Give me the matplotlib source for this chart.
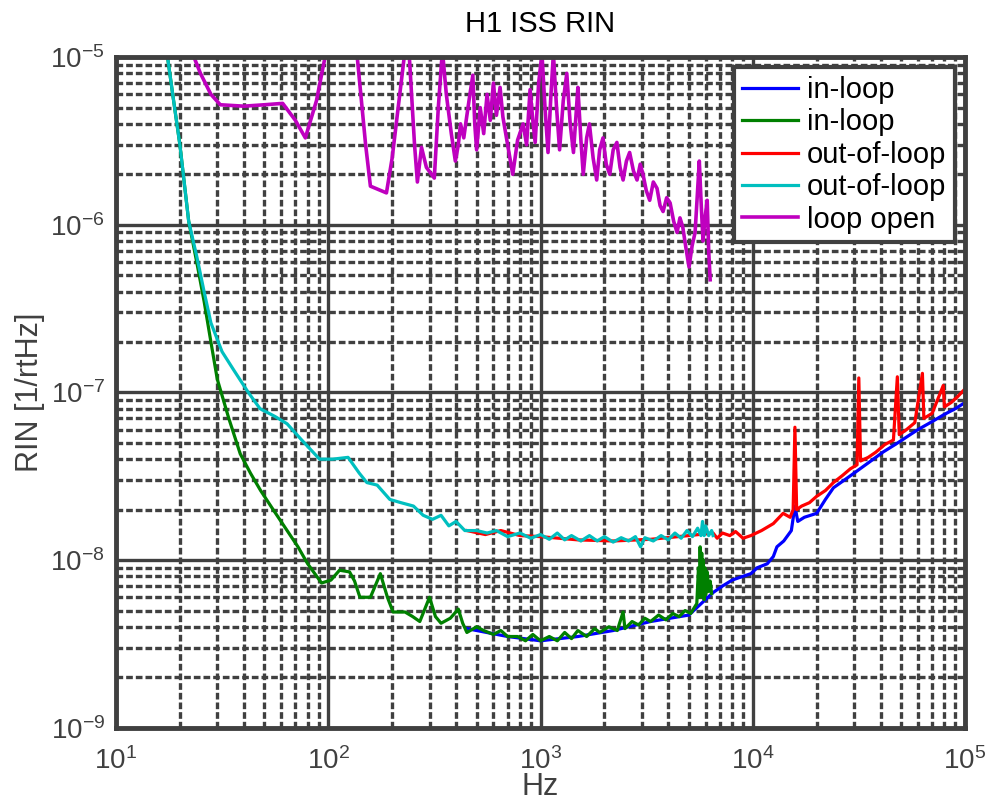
import numpy as np
import matplotlib
matplotlib.use('Agg')
import matplotlib.pyplot as plt
from matplotlib.ticker import NullFormatter

plt.rcParams['font.family'] = ['Liberation Sans', 'DejaVu Sans']
plt.rcParams['axes.unicode_minus'] = False
plt.rcParams['mathtext.default'] = 'regular'

# in-loop (high frequency part, under the green one at low f)
f_blue = [450, 700, 1000, 1500, 2200, 3300, 5000, 6500, 7200, 8000, 9000, 9800, 10500, 11700,
          12500, 13000, 14000, 15200, 15800, 16300, 17500, 20000, 22000, 24000, 28000, 30000,
          35000, 41000, 47000, 54000, 60000, 70000, 80000, 90000, 100000]
v_blue = [3.9e-9, 3.5e-9, 3.3e-9, 3.5e-9, 3.8e-9, 4.3e-9, 4.7e-9, 6.4e-9, 7.0e-9, 7.6e-9, 8.0e-9,
          8.3e-9, 9.0e-9, 9.5e-9, 1.05e-8, 1.2e-8, 1.3e-8, 1.5e-8, 2.1e-8, 1.7e-8, 1.8e-8, 1.9e-8,
          2.3e-8, 2.7e-8, 3.1e-8, 3.3e-8, 3.8e-8, 4.4e-8, 4.9e-8, 5.5e-8, 6.0e-8, 6.7e-8, 7.4e-8,
          8.0e-8, 8.7e-8]

# in-loop (low frequency)
f_green = [17, 18.5, 20, 22, 24, 26, 28, 30, 34, 38.5, 43, 48, 55, 64, 72, 80, 93, 103, 113, 126,
           133, 141, 158, 176, 190, 202, 230, 250, 270, 300, 320, 340, 376, 410, 430, 450, 500,
           540, 600, 650, 700, 780, 850, 920, 1000, 1100, 1200, 1300, 1400, 1500, 1650, 1800,
           1900, 2100, 2300, 2450, 2500, 2700, 2900, 3100, 3300, 3600, 3900, 4200, 4500, 4800,
           5100, 5300, 5450, 5550, 5600, 5650, 5700, 5750, 5800, 5850, 5900, 5950, 6000, 6100,
           6200, 6300, 6400]
v_green = [1.3e-5, 6e-6, 3e-6, 1.05e-6, 6e-7, 3.5e-7, 2e-7, 1.2e-7, 7e-8, 4.3e-8, 3.3e-8, 2.6e-8,
           2e-8, 1.5e-8, 1.2e-8, 9.5e-9, 7.3e-9, 7.6e-9, 8.7e-9, 8.5e-9, 7.5e-9, 6e-9, 6e-9,
           8.3e-9, 6e-9, 4.9e-9, 4.9e-9, 4.6e-9, 4.3e-9, 6e-9, 4.6e-9, 4.2e-9, 4.5e-9, 5.1e-9,
           4.2e-9, 3.7e-9, 4e-9, 3.8e-9, 3.6e-9, 3.8e-9, 3.5e-9, 3.5e-9, 3.3e-9, 3.6e-9, 3.3e-9,
           3.5e-9, 3.3e-9, 3.7e-9, 3.4e-9, 3.8e-9, 3.5e-9, 3.9e-9, 3.7e-9, 4.0e-9, 3.8e-9, 4.9e-9,
           3.9e-9, 4.3e-9, 4.1e-9, 4.5e-9, 4.3e-9, 4.7e-9, 4.4e-9, 4.8e-9, 4.6e-9, 5e-9, 4.8e-9,
           5.2e-9, 5.5e-9, 9e-9, 6e-9, 1.2e-8, 7e-9, 1.1e-8, 6e-9, 1e-8, 5.8e-9, 9e-9, 6.2e-9,
           8.5e-9, 6.5e-9, 7.5e-9, 6.3e-9]

# out-of-loop (high frequency part, under the cyan one at low f)
f_red = [450, 550, 650, 800, 1000, 1500, 2200, 3300, 5000, 6500, 6800, 7200, 7800, 8300, 9000,
         9800, 11000, 12500, 13900, 15000, 15500, 15800, 16100, 17000, 18500, 20000, 22000, 24000,
         26500, 28800, 31000, 31600, 32200, 35000, 38000, 42000, 46000, 48000, 49000, 53000,
         58000, 63000, 64000, 70000, 79000, 80000, 86000, 92000, 100000]
v_red = [1.5e-8, 1.42e-8, 1.5e-8, 1.4e-8, 1.38e-8, 1.32e-8, 1.3e-8, 1.33e-8, 1.4e-8, 1.45e-8,
         1.35e-8, 1.45e-8, 1.4e-8, 1.48e-8, 1.35e-8, 1.4e-8, 1.5e-8, 1.65e-8, 1.9e-8, 1.8e-8,
         2.0e-8, 6.2e-8, 2.0e-8, 2.1e-8, 2.2e-8, 2.4e-8, 2.6e-8, 2.9e-8, 3.2e-8, 3.5e-8, 3.7e-8,
         1.22e-7, 3.9e-8, 4.1e-8, 4.4e-8, 4.9e-8, 5.2e-8, 1.24e-7, 5.6e-8, 6.0e-8, 6.6e-8,
         1.3e-7, 7.0e-8, 7.5e-8, 1.1e-7, 8.2e-8, 8.7e-8, 9.4e-8, 1.05e-7]

# out-of-loop (low frequency)
f_cyan = [17, 18.5, 20, 22, 24, 26, 28, 31.6, 36, 42, 47.7, 56, 64, 75, 91, 105, 124, 140, 152,
          170, 195, 220, 252, 280, 310, 340, 370, 400, 440, 500, 560, 620, 700, 800, 900, 1000,
          1100, 1200, 1300, 1400, 1550, 1700, 1850, 2000, 2200, 2400, 2600, 2800, 2960, 3100,
          3400, 3700, 4000, 4300, 4600, 4900, 5200, 5500, 5700, 5800, 5900, 6000, 6200, 6400, 6500]
v_cyan = [1.3e-5, 6e-6, 3e-6, 1.05e-6, 6.5e-7, 4e-7, 2.6e-7, 1.75e-7, 1.35e-7, 1e-7, 8e-8, 7.2e-8,
          6.5e-8, 5.2e-8, 4e-8, 4e-8, 4.1e-8, 3.3e-8, 2.9e-8, 2.8e-8, 2.3e-8, 2.2e-8, 2.1e-8,
          1.85e-8, 1.75e-8, 1.85e-8, 1.6e-8, 1.7e-8, 1.5e-8, 1.5e-8, 1.45e-8, 1.5e-8, 1.38e-8,
          1.45e-8, 1.35e-8, 1.42e-8, 1.33e-8, 1.45e-8, 1.32e-8, 1.4e-8, 1.3e-8, 1.4e-8, 1.3e-8,
          1.38e-8, 1.28e-8, 1.36e-8, 1.3e-8, 1.38e-8, 1.2e-8, 1.36e-8, 1.3e-8, 1.4e-8, 1.32e-8,
          1.45e-8, 1.35e-8, 1.5e-8, 1.38e-8, 1.55e-8, 1.4e-8, 1.7e-8, 1.4e-8, 1.6e-8, 1.4e-8,
          1.5e-8, 1.4e-8]

# loop open
f_mag = [22, 25, 28, 31, 40, 50, 61, 70, 78, 88, 98, 115, 136, 150, 158, 188, 200, 230, 240,
         255, 263, 275, 290, 316, 330, 345, 360, 380, 397, 410, 420, 435, 450, 465, 480, 490,
         500, 520, 540, 560, 580, 600, 620, 645, 665, 700, 740, 780, 828, 860, 893, 920, 944,
         980, 1016, 1050, 1085, 1120, 1150, 1190, 1230, 1280, 1330, 1380, 1430, 1470, 1500,
         1550, 1590, 1650, 1700, 1770, 1840, 1900, 1970, 2040, 2120, 2200, 2290, 2370, 2450,
         2540, 2630, 2740, 2850, 2950, 3040, 3150, 3270, 3400, 3540, 3660, 3780, 3930, 4080,
         4240, 4400, 4540, 4680, 4850, 5010, 5180, 5350, 5480, 5600, 5720, 5830, 5960, 6100,
         6200, 6300]
v_mag = [1.2e-5, 8e-6, 6e-6, 5.2e-6, 5.1e-6, 5.2e-6, 5.3e-6, 4.2e-6, 3.3e-6, 5.5e-6, 1.1e-5,
         2e-5, 1.1e-5, 3e-6, 1.7e-6, 1.55e-6, 2.5e-6, 1.1e-5, 1.1e-5, 3e-6, 1.8e-6, 2.9e-6,
         2.2e-6, 1.9e-6, 5e-6, 1.1e-5, 6e-6, 3.5e-6, 2.4e-6, 3e-6, 4e-6, 3.3e-6, 4.5e-6, 6e-6,
         7.8e-6, 4e-6, 2.8e-6, 5e-6, 3.5e-6, 6e-6, 4.2e-6, 7e-6, 4.5e-6, 6.6e-6, 4.4e-6, 3e-6,
         2.0e-6, 3.2e-6, 4.0e-6, 3.0e-6, 6.4e-6, 4.2e-6, 3.1e-6, 7e-6, 1.05e-5, 5e-6, 2.7e-6,
         6e-6, 1.05e-5, 5e-6, 2.8e-6, 5.5e-6, 8e-6, 4e-6, 2.7e-6, 4.5e-6, 6.6e-6, 3.2e-6, 2e-6,
         3.3e-6, 4e-6, 2.5e-6, 1.85e-6, 2.8e-6, 3.3e-6, 2.3e-6, 2e-6, 2.8e-6, 3.1e-6, 2.2e-6,
         1.85e-6, 2.4e-6, 2.7e-6, 2.1e-6, 1.85e-6, 2.3e-6, 2e-6, 1.6e-6, 1.4e-6, 1.8e-6, 1.65e-6,
         1.3e-6, 1.2e-6, 1.45e-6, 1.35e-6, 1.05e-6, 9e-7, 1.1e-6, 9.7e-7, 7.2e-7, 5.6e-7, 7.5e-7,
         9e-7, 1.5e-6, 2.4e-6, 1.3e-6, 8e-7, 1.1e-6, 1.4e-6, 7e-7, 4.7e-7]

gray = '#404040'
fig = plt.figure(figsize=(10, 8.05), dpi=100)
ax = fig.add_axes([0.116, 0.096, 0.849, 0.833])

lw = 2.3
ax.loglog(f_blue, v_blue, color=(0, 0, 1), lw=lw, label='in-loop')
ax.loglog(f_green, v_green, color=(0, 0.5, 0), lw=lw, label='in-loop')
ax.loglog(f_red, v_red, color=(1, 0, 0), lw=lw, label='out-of-loop')
ax.loglog(f_cyan, v_cyan, color=(0, 0.75, 0.75), lw=lw, label='out-of-loop')
ax.loglog(f_mag, v_mag, color=(0.75, 0, 0.75), lw=2.6, label='loop open')

ax.set_xlim(10, 1e5)
ax.set_ylim(1e-9, 1e-5)

ax.grid(which='major', color=gray, lw=2.4, ls='-')
ax.grid(which='minor', color=gray, lw=2.4, ls=(0, (2, 0.9)))
ax.set_axisbelow(True)
for s in ax.spines.values():
    s.set_linewidth(3.5)
    s.set_color(gray)
ax.xaxis.set_minor_formatter(NullFormatter())
ax.yaxis.set_minor_formatter(NullFormatter())
ax.tick_params(which='both', direction='in', length=0, labelsize=20, labelcolor=gray)
ax.tick_params(axis='x', pad=14)
ax.tick_params(axis='y', pad=8)

ax.set_title('H1 ISS RIN', fontsize=21, pad=18)
ax.set_xlabel('Hz', fontsize=22, color=gray, labelpad=-2)
ax.set_ylabel('RIN [1/rtHz]', fontsize=22, color=gray, labelpad=4)

leg = ax.legend(loc='upper right', fontsize=21, fancybox=False, framealpha=1,
                edgecolor=gray, borderaxespad=0.35, handlelength=1.9, handletextpad=0.3,
                labelspacing=0.15, borderpad=0.3)
leg.get_frame().set_linewidth(3)

fig.savefig('out.png', dpi=100)
